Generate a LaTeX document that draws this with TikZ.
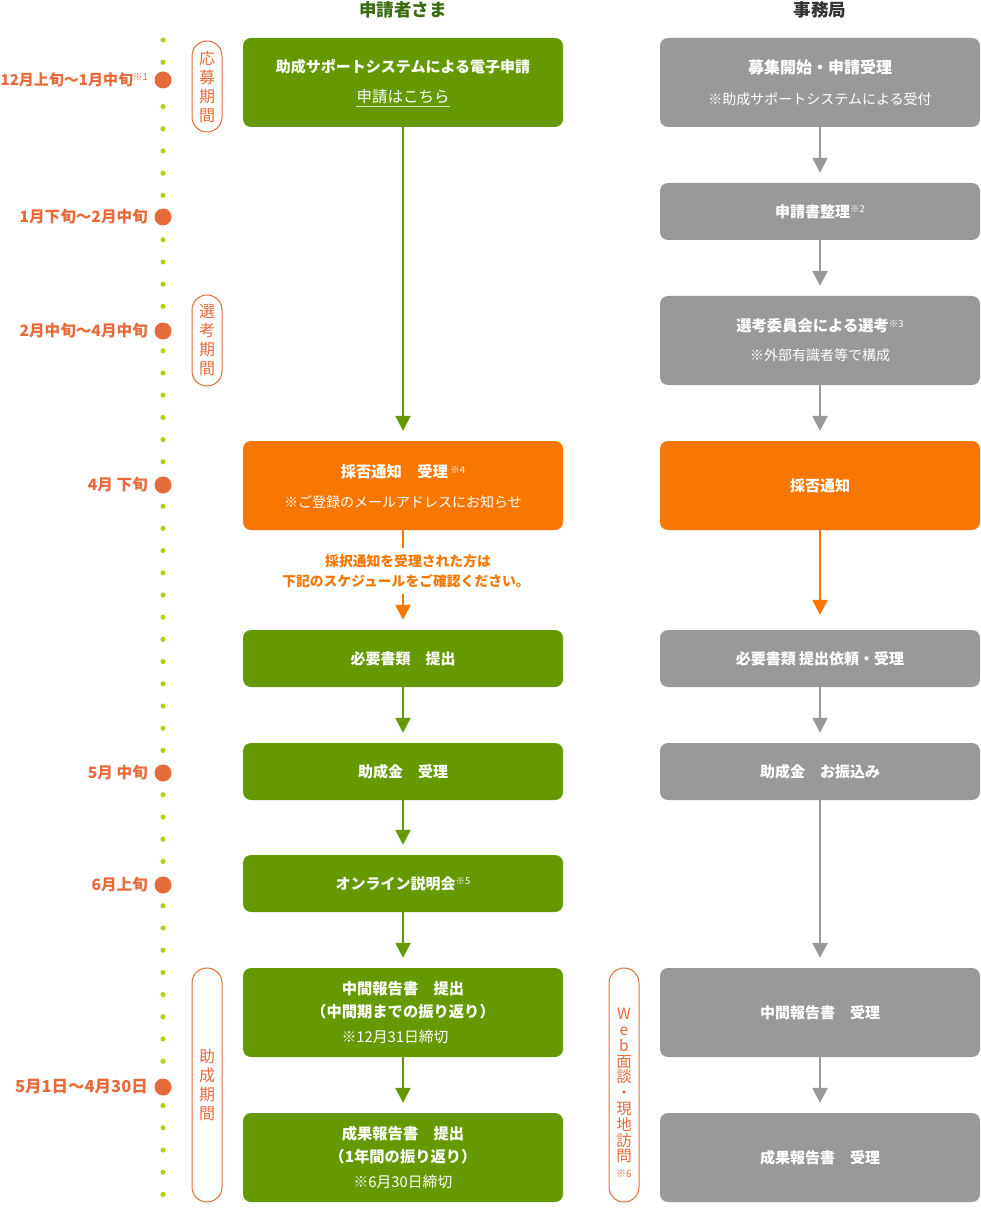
\documentclass[tikz,border=0pt]{standalone}
\usepackage{fontspec}
\setmainfont{Noto Sans CJK JP}
\usetikzlibrary{arrows.meta}
\definecolor{grn}{HTML}{669900}
\definecolor{org}{HTML}{F77700}
\definecolor{gry}{HTML}{999999}
\definecolor{tl}{HTML}{E86A3A}
\definecolor{dotc}{HTML}{B4CF17}
\definecolor{hdg}{HTML}{3D6B12}
\definecolor{hdk}{HTML}{333333}
\newcommand{\supn}[1]{\raisebox{4.5pt}{\fontsize{9.5}{9.5}\selectfont\mdseries #1}}
\begin{document}
\begin{tikzpicture}[x=1pt,y=-1pt,
  box/.style={rounded corners=8pt, minimum width=320pt, inner sep=0pt, draw=none, text=white, font=\bfseries\fontsize{15}{18}\selectfont},
  gbox/.style={box, fill=grn},
  obox/.style={box, fill=org},
  ybox/.style={box, fill=gry},
  btxt/.style={text=white, font=\bfseries\fontsize{15.3}{18}\selectfont, anchor=base, inner sep=0pt},
  stxt/.style={text=white, font=\fontsize{14}{16}\selectfont, anchor=base, inner sep=0pt},
  note/.style={text=org, font=\bfseries\fontsize{13.8}{16}\selectfont, anchor=base, inner sep=0pt},
  tlab/.style={text=tl, font=\bfseries\fontsize{15.6}{18}\selectfont, anchor=base east, inner sep=0pt},
  mile/.style={circle, fill=tl, minimum size=17pt, inner sep=0pt},
  pill/.style={draw=tl, line width=1pt, fill=white, rounded corners=15pt, minimum width=30pt, inner sep=0pt, text=tl, align=center, font=\fontsize{16}{19}\selectfont},
  head/.style={font=\bfseries\fontsize{17.5}{20}\selectfont, inner sep=0pt},
  garr/.style={draw=grn, line width=2.5pt, -{Triangle[width=15pt,length=15pt]}, shorten >=10pt},
  yarr/.style={draw=gry, line width=2.5pt, -{Triangle[width=15pt,length=15pt]}, shorten >=10pt},
  oarr/.style={draw=org, line width=2.5pt, -{Triangle[width=15pt,length=15pt]}, shorten >=10pt},
  oline/.style={draw=org, line width=2.5pt}
]
\useasboundingbox (0,0) rectangle (980,1230);

% headers
\node[head, text=hdg] (h1) at (403,10) {申請者さま};
\node[head, text=hdk] (h2) at (820,10) {事務局};

% timeline dots
\foreach \k in {0,...,52} \fill[dotc] (163,40+22.2*\k) circle (2.6pt);

% milestones
\node[mile] (m1) at (163,80) {};
\node[mile] (m2) at (163,217) {};
\node[mile] (m3) at (163,331) {};
\node[mile] (m4) at (163,485) {};
\node[mile] (m5) at (163,773) {};
\node[mile] (m6) at (163,885) {};
\node[mile] (m7) at (163,1087) {};
\node[tlab, font=\bfseries\fontsize{15}{18}\selectfont] (t1) at (148,85.5) {12月上旬〜1月中旬\supn{※1}};
\node[tlab] (t2) at (148,222.5) {1月下旬〜2月中旬};
\node[tlab] (t3) at (148,336.5) {2月中旬〜4月中旬};
\node[tlab] (t4) at (148,490.5) {4月 下旬};
\node[tlab] (t5) at (148,778.5) {5月 中旬};
\node[tlab] (t6) at (148,890.5) {6月上旬};
\node[tlab, font=\bfseries\fontsize{16.5}{18}\selectfont] (t7) at (148,1092.5) {5月1日〜4月30日};

% period pills
\node[pill, minimum height=91pt] (p1) at (207,86.5) {応\\募\\期\\間};
\node[pill, minimum height=91pt] (p2) at (207,340.5) {選\\考\\期\\間};
\node[pill, minimum height=234pt] (p3) at (207,1085) {助\\成\\期\\間};
\node[pill, minimum height=234pt] (p4) at (624,1085) {};
\node[text=tl, align=center, inner sep=0pt, font=\fontsize{15.5}{15.8}\selectfont] (p4t) at (624,1093)
  {W\\e\\b\\面\\談\\・\\現\\地\\訪\\問\\{\fontsize{10}{12}\selectfont ※6}};

% left column
\node[gbox, minimum height=89pt] (L1) at (403,82.5) {};
\node[btxt, font=\bfseries\fontsize{15}{18}\selectfont] (L1a) at (403,72.5) {助成サポートシステムによる電子申請};
\node[stxt, font=\fontsize{15.5}{18}\selectfont] (L1b) at (403,103) {申請はこちら};
\draw[white, opacity=0.75, line width=1pt] ([yshift=-4pt]L1b.base west) -- ([yshift=-4pt]L1b.base east);

\node[obox, minimum height=89pt] (L2) at (403,485.5) {};
\node[btxt] (L2a) at (403,477.5) {採否通知　受理\,\supn{※4}};
\node[stxt] (L2b) at (403,507) {※ご登録のメールアドレスにお知らせ};

\node[note] (N1) at (408,566) {採択通知を受理された方は};
\node[note] (N2) at (406,586) {下記のスケジュールをご確認ください。};
\coordinate (n1) at (403,548);
\coordinate (n2) at (403,594);

\node[gbox, minimum height=57pt] (L3) at (403,658.5) {必要書類　提出};
\node[gbox, minimum height=57pt] (L4) at (403,771.5) {助成金　受理};
\node[gbox, minimum height=57pt] (L5) at (403,883.5) {オンライン説明会\supn{※5}};

\node[gbox, minimum height=89pt] (L6) at (403,1012.5) {};
\node[btxt] (L6a) at (403,994.5) {中間報告書　提出};
\node[btxt] (L6b) at (403,1017.5) {（中間期までの振り返り）};
\node[stxt, font=\fontsize{14.8}{17}\selectfont] (L6c) at (395,1042.5) {※12月31日締切};

\node[gbox, minimum height=89pt] (L7) at (403,1157.5) {};
\node[btxt] (L7a) at (403,1139.5) {成果報告書　提出};
\node[btxt] (L7b) at (403,1162.5) {（1年間の振り返り）};
\node[stxt, font=\fontsize{14.8}{17}\selectfont] (L7c) at (403,1187.5) {※6月30日締切};

% right column
\node[ybox, minimum height=89pt] (R1) at (820,82.5) {};
\node[btxt, font=\bfseries\fontsize{16}{18}\selectfont] (R1a) at (820,73.5) {募集開始・申請受理};
\node[stxt] (R1b) at (820,105) {※助成サポートシステムによる受付};

\node[ybox, minimum height=57pt] (R2) at (820,211.5) {申請書整理\supn{※2}};

\node[ybox, minimum height=89pt] (R3) at (820,340.5) {};
\node[btxt] (R3a) at (820,331.5) {選考委員会による選考\supn{※3}};
\node[stxt] (R3b) at (820,360) {※外部有識者等で構成};

\node[obox, minimum height=89pt] (R4) at (820,485.5) {採否通知};
\node[ybox, minimum height=57pt] (R5) at (820,658.5) {必要書類 提出依頼・受理};
\node[ybox, minimum height=57pt] (R6) at (820,771.5) {助成金　お振込み};
\node[ybox, minimum height=89pt] (R7) at (820,1012.5) {中間報告書　受理};
\node[ybox, minimum height=89pt] (R8) at (820,1157.5) {成果報告書　受理};

% connectors left
\draw[garr] (L1) -- (L2);
\draw[oline] (L2) -- (n1);
\draw[oarr] (n2) -- (L3);
\draw[garr] (L3) -- (L4);
\draw[garr] (L4) -- (L5);
\draw[garr] (L5) -- (L6);
\draw[garr] (L6) -- (L7);

% connectors right
\draw[yarr] (R1) -- (R2);
\draw[yarr] (R2) -- (R3);
\draw[yarr] (R3) -- (R4);
\draw[oarr, shorten >=15pt] (R4) -- (R5);
\draw[yarr] (R5) -- (R6);
\draw[yarr] (R6) -- (R7);
\draw[yarr] (R7) -- (R8);
\end{tikzpicture}
\end{document}
